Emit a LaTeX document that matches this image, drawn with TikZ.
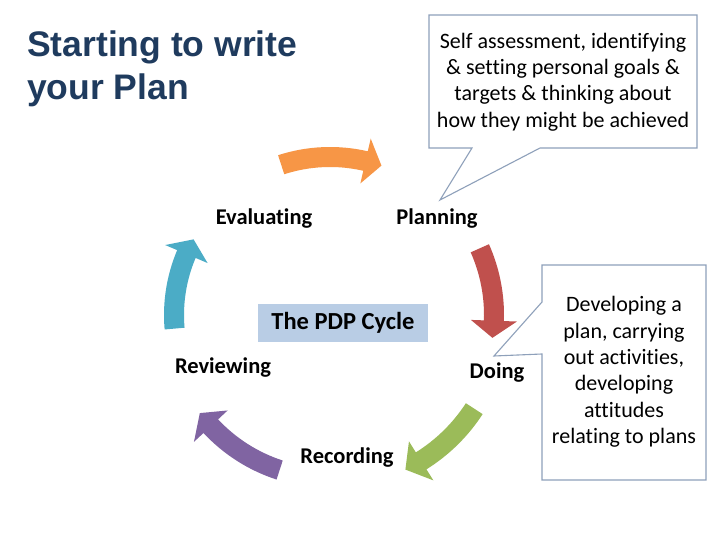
\documentclass[tikz,border=0pt]{standalone}
\usepackage{fontspec}
\setmainfont{Carlito}[Ligatures=NoCommon]
\newfontfamily\titlefont{Liberation Sans}
\usepackage{tikz}

\definecolor{titleblue}{HTML}{1F3B5E}
\definecolor{bubbleline}{HTML}{8EA0BA}
\definecolor{pdpblue}{HTML}{B9CDE5}
\definecolor{arrOrange}{HTML}{F79646}
\definecolor{arrRed}{HTML}{C0504D}
\definecolor{arrGreen}{HTML}{9BBB59}
\definecolor{arrPurple}{HTML}{8064A2}
\definecolor{arrTeal}{HTML}{4BACC6}

\begin{document}
\begin{tikzpicture}[
    x=1pt, y=1pt,
    stage/.style={font=\fontsize{22.5}{27}\selectfont\bfseries, inner sep=0pt},
    bubble/.style={draw=bubbleline, line width=1.1pt, fill=white, line join=miter},
    bubbletext/.style={font=\fontsize{22}{26.4}\selectfont, align=center, inner sep=0pt},
    cyclebox/.style={fill=pdpblue, minimum width=170pt, minimum height=38pt,
        font=\fontsize{24.5}{29}\selectfont\bfseries, inner sep=0pt}
]

\useasboundingbox[fill=white] (0,0) rectangle (720,540);

% title
\node[anchor=west, align=left, inner sep=0pt, text=titleblue,
      font=\titlefont\fontsize{35.5}{43}\selectfont\bfseries] (title) at (27,471.5)
      {Starting to write\\your Plan};

% the five cycle arrows: colour / tail angle / tip angle / radius
\begin{scope}[shift={(330,225)}]
\foreach \col/\a/\b/\r in {arrOrange/108/71/158, arrRed/24/-8/164,
        arrGreen/-33/-64/172, arrPurple/-108/-143/163, arrTeal/185/151/156}
    \fill[\col] (\a:\r-10) arc[start angle=\a, end angle=\b+6, radius=\r-10]
        -- (\b+6:\r-23) -- (\b:\r) -- (\b+6:\r+23) -- (\b+6:\r+10)
        arc[start angle=\b+6, end angle=\a, radius=\r+10] -- cycle;
\end{scope}

% stages
\node[stage] (eval)   at (264,321) {Evaluating};
\node[stage] (plan)   at (437,321) {Planning};
\node[stage] (review) at (223,172) {Reviewing};
\node[stage] (doing)  at (497,167) {Doing};
\node[stage] (record) at (347,82)  {Recording};
\node[cyclebox] (pdp) at (343,217) {The PDP Cycle};

% callouts
\draw[bubble] (429,525) -- (697,525) -- (697,392) -- (540,392) -- (440,340)
    -- (472,392) -- (429,392) -- cycle;
\node[bubbletext] (selfass) at (563,458)
    {Self assessment, identifying\\\& setting personal goals \&\\targets \& thinking about\\how they might be achieved};

\draw[bubble] (542,275) -- (706,275) -- (706,60) -- (542,60) -- (542,186)
    -- (494,184) -- (542,238) -- cycle;
\node[bubbletext] (develop) at (624,168)
    {Developing a\\plan, carrying\\out activities,\\developing\\attitudes\\relating to plans};

\end{tikzpicture}
\end{document}
